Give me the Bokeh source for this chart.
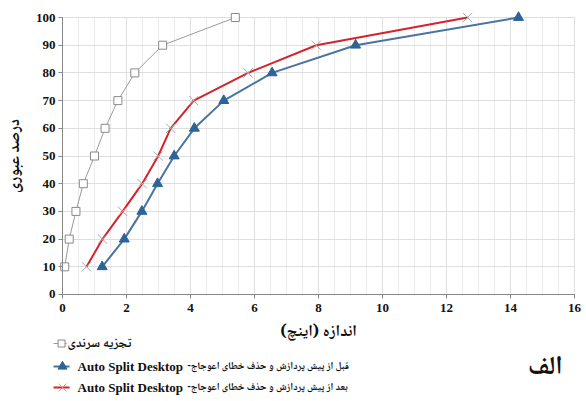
from bokeh.plotting import figure
from bokeh.models import Range1d, SingleIntervalTicker
from bokeh.core.properties import value
from bokeh.embed import file_html
from bokeh.resources import INLINE

# ---- data ----
passing = [10, 20, 30, 40, 50, 60, 70, 80, 90, 100]
sieve_size = [0.07, 0.21, 0.42, 0.65, 1.00, 1.33, 1.73, 2.26, 3.13, 5.40]
before_size = [1.24, 1.93, 2.48, 2.97, 3.49, 4.12, 5.04, 6.55, 9.16, 14.25]
after_size = [0.75, 1.25, 1.88, 2.49, 2.99, 3.38, 4.10, 5.80, 7.93, 12.66]

legend_sieve = "تجزیه سرندی"
legend_tool = "Auto Split Desktop"
legend_before = "-قبل از پیش پردازش و حذف خطای اعوجاج"
legend_after = "-بعد از پیش پردازش و حذف خطای اعوجاج"
x_title = "اندازه (اینچ)"
y_title = "درصد عبوری"
panel_tag = "الف"

SERIF = "Liberation Serif"
FA = "Noto Naskh Arabic, Noto Sans Arabic, DejaVu Sans"

GRAY_LINE = "#9a9a9a"
GRAY_MARK = "#8a8a8a"
BLUE_LINE = "#4a74a0"
BLUE_MARK = "#2e6397"
RED_LINE = "#d3232e"
X_MARK = "#a8a8a8"

# the frame covers the whole canvas; the axes sit at x=0 / y=0
p = figure(width=586, height=400, output_backend="svg", toolbar_location=None,
           x_range=Range1d(-1.9375, 16.375), y_range=Range1d(-38.27, 106.14),
           min_border_left=0, min_border_right=0, min_border_top=0,
           min_border_bottom=0)
p.outline_line_color = None
p.background_fill_color = "white"

p.xaxis.ticker = SingleIntervalTicker(interval=2, num_minor_ticks=4)
p.yaxis.ticker = SingleIntervalTicker(interval=10, num_minor_ticks=0)
p.xaxis.fixed_location = 0
p.yaxis.fixed_location = 0
p.xaxis.bounds = (0, 16)
p.yaxis.bounds = (0, 100)
for ax in (p.xaxis, p.yaxis):
    ax.axis_line_color = "#888888"
    ax.major_tick_line_color = "#888888"
    ax.minor_tick_line_color = None
    ax.major_tick_in = 0
    ax.major_tick_out = 4
    ax.major_label_text_font = SERIF
    ax.major_label_text_font_style = "bold"
    ax.major_label_text_font_size = "13px"
    ax.major_label_text_color = "#111111"
    ax.axis_label_text_font = FA
    ax.axis_label_text_font_style = "bold"
    ax.axis_label_text_font_size = "16px"
    ax.axis_label_text_color = "#111111"
p.xaxis.major_label_standoff = 6
p.yaxis.major_label_standoff = 3
p.yaxis.axis_label = y_title
p.yaxis.axis_label_standoff = 4
p.xaxis.axis_label = x_title
p.xaxis.axis_label_standoff = 3

p.xgrid.grid_line_color = "#dedede"
p.xgrid.minor_grid_line_color = "#ececec"
p.xgrid.bounds = (0, 16)
p.xgrid.cross_bounds = (0, 100)
p.ygrid.grid_line_color = "#dedede"
p.ygrid.bounds = (0, 100)
p.ygrid.cross_bounds = (0, 16)

# series
p.line(sieve_size, passing, line_color=GRAY_LINE, line_width=1)
p.scatter(sieve_size, passing, marker="square", size=8, line_color=GRAY_MARK,
          fill_color="white", line_width=1)

p.line(before_size, passing, line_color=BLUE_LINE, line_width=2)
p.scatter(before_size, passing, marker="triangle", size=10, line_color=BLUE_MARK,
          fill_color=BLUE_MARK)

p.line(after_size, passing, line_color=RED_LINE, line_width=2)
p.scatter(after_size, passing, marker="x", size=13, line_color=X_MARK, line_width=1)

# ---- legend (below the x axis, drawn in the same frame) ----
ly = [-17.7, -26.0, -33.6]
p.segment(x0=[-0.28, -0.28, -0.28], y0=ly, x1=[0.13, 0.22, 0.22], y1=ly,
          line_color=[GRAY_LINE, BLUE_LINE, RED_LINE], line_width=[1, 2, 2])
p.scatter([-0.03], [ly[0]], marker="square", size=7, line_color=GRAY_MARK,
          fill_color="white")
p.scatter([0.0], [ly[1]], marker="triangle", size=9, line_color=BLUE_MARK,
          fill_color=BLUE_MARK)
p.scatter([0.0], [ly[2]], marker="x", size=11, line_color=X_MARK)

p.text(x=[0.16], y=[ly[0]], text=[legend_sieve], text_font=value(FA),
       text_font_style="bold", text_font_size="13px", text_baseline="middle",
       text_color="#111111")
p.text(x=[0.47, 0.47], y=ly[1:], text=[legend_tool, legend_tool],
       text_font=value(SERIF), text_font_style="bold", text_font_size="13px",
       text_baseline="middle", text_color="#111111")
p.text(x=[3.91, 3.91], y=ly[1:], text=[legend_before, legend_after],
       text_font=value(FA), text_font_style="bold", text_font_size="10px",
       text_baseline="middle", text_color="#111111")

p.text(x=[15.09], y=[-26.7], text=[panel_tag], text_font=value(FA),
       text_font_style="bold", text_font_size="26px", text_align="center",
       text_baseline="middle", text_color="#111111")

open("out.html", "w").write(file_html(p, INLINE))
